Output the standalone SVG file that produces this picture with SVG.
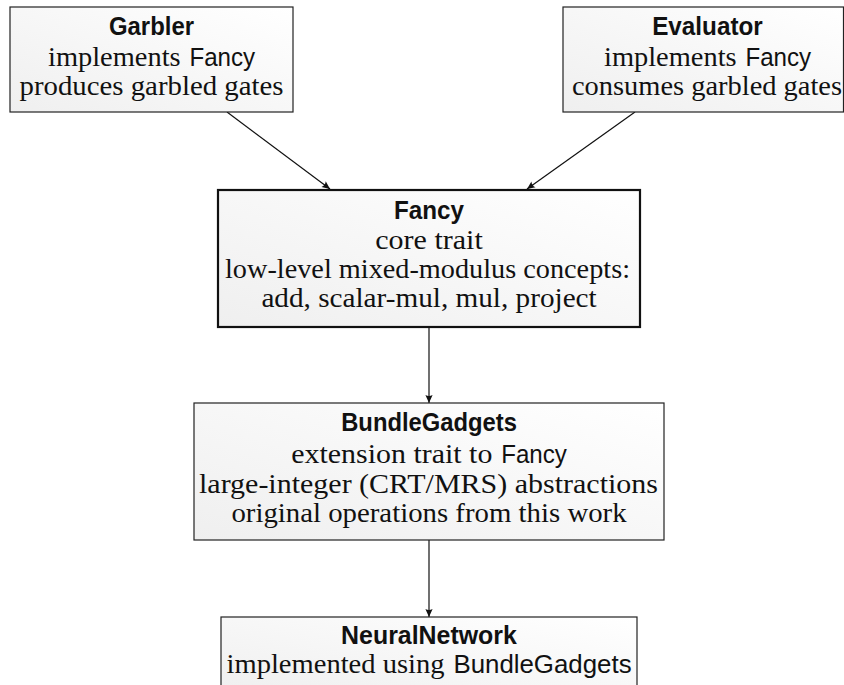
<svg xmlns="http://www.w3.org/2000/svg" width="844" height="685" viewBox="0 0 844 685">
<style>
.box{fill:url(#shade);stroke:#222;stroke-width:1.2}
.core{fill:url(#shade);stroke:#111;stroke-width:2.2}
.t{font-family:"Liberation Sans","DejaVu Sans",sans-serif;font-weight:bold;font-size:25.5px;fill:#111}
.s{font-family:"Liberation Serif","DejaVu Serif",serif;font-size:26.5px;fill:#111}
.ss{font-family:"Liberation Sans","DejaVu Sans",sans-serif;font-size:25px;fill:#111}
.edge{stroke:#111;stroke-width:1.2;fill:none;marker-end:url(#ah)}
</style>
<defs>
<linearGradient id="shade" x1="0" y1="1" x2="1" y2="0">
<stop offset="0" stop-color="#efefef"/>
<stop offset="1" stop-color="#ffffff"/>
</linearGradient>
<marker id="ah" markerUnits="userSpaceOnUse" markerWidth="12" markerHeight="10" viewBox="-9 -5 10 10" refX="0" refY="0" orient="auto">
<path d="M0,0 L-8,-3.6 Q-5.8,0 -8,3.6 Z" fill="#111"/>
</marker>
</defs>
<rect width="844" height="685" fill="#fff"/>
<g id="connectors">
<line class="edge" x1="227" y1="112" x2="330" y2="189"/>
<line class="edge" x1="635" y1="112" x2="527" y2="189"/>
<line class="edge" x1="429" y1="327" x2="429" y2="403"/>
<line class="edge" x1="429" y1="540" x2="429" y2="617"/>
</g>
<g id="garbler">
<rect class="box" x="10" y="7" width="283" height="105"/>
<text class="t" x="109" y="35" textLength="85" lengthAdjust="spacingAndGlyphs">Garbler</text>
<text class="s" y="66"><tspan x="48" textLength="132.6" lengthAdjust="spacingAndGlyphs">implements</tspan><tspan class="ss" x="189.4" textLength="65.7" lengthAdjust="spacingAndGlyphs">Fancy</tspan></text>
<text class="s" x="19.5" y="95" textLength="264" lengthAdjust="spacingAndGlyphs">produces garbled gates</text>
</g>
<g id="evaluator">
<rect class="box" x="563" y="7" width="280.5" height="105"/>
<text class="t" x="652.2" y="35" textLength="110.6" lengthAdjust="spacingAndGlyphs">Evaluator</text>
<text class="s" y="66"><tspan x="604" textLength="132.6" lengthAdjust="spacingAndGlyphs">implements</tspan><tspan class="ss" x="745.4" textLength="65.7" lengthAdjust="spacingAndGlyphs">Fancy</tspan></text>
<text class="s" x="572" y="95" textLength="270" lengthAdjust="spacingAndGlyphs">consumes garbled gates</text>
</g>
<g id="fancy">
<rect class="core" x="218" y="190" width="422" height="137"/>
<text class="t" x="394" y="219" textLength="70" lengthAdjust="spacingAndGlyphs">Fancy</text>
<text class="s" x="375.2" y="249" textLength="107.6" lengthAdjust="spacingAndGlyphs">core trait</text>
<text class="s" x="225" y="278" textLength="405" lengthAdjust="spacingAndGlyphs">low-level mixed-modulus concepts:</text>
<text class="s" x="261.4" y="307" textLength="335.3" lengthAdjust="spacingAndGlyphs">add, scalar-mul, mul, project</text>
</g>
<g id="bundlegadgets">
<rect class="box" x="194" y="403" width="470" height="137"/>
<text class="t" x="341.2" y="431" textLength="175.7" lengthAdjust="spacingAndGlyphs">BundleGadgets</text>
<text class="s" y="463"><tspan x="291.2" textLength="201.2" lengthAdjust="spacingAndGlyphs">extension trait to</tspan><tspan class="ss" x="501.2" textLength="65.7" lengthAdjust="spacingAndGlyphs">Fancy</tspan></text>
<text class="s" x="199" y="493" textLength="459" lengthAdjust="spacingAndGlyphs">large-integer (CRT/MRS) abstractions</text>
<text class="s" x="231.4" y="522" textLength="395.2" lengthAdjust="spacingAndGlyphs">original operations from this work</text>
</g>
<g id="neuralnetwork">
<rect class="box" x="221" y="617" width="416" height="80"/>
<text class="t" x="341.1" y="644" textLength="175.8" lengthAdjust="spacingAndGlyphs">NeuralNetwork</text>
<text class="s" y="673"><tspan x="226.5" textLength="218.1" lengthAdjust="spacingAndGlyphs">implemented using</tspan><tspan class="ss" x="453.4" textLength="178.2" lengthAdjust="spacingAndGlyphs">BundleGadgets</tspan></text>
</g>
</svg>
